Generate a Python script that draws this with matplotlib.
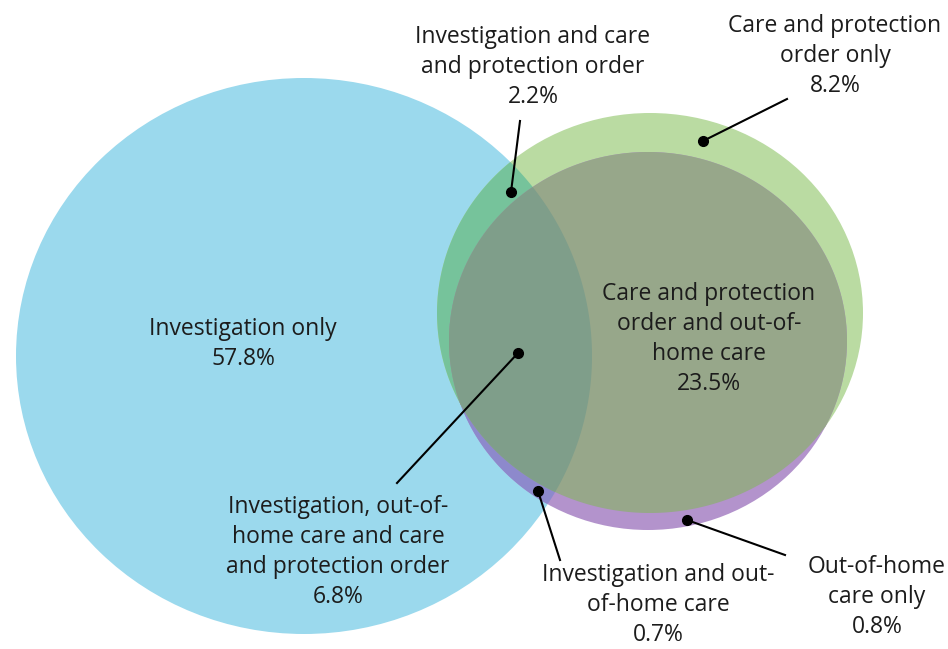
import numpy as np
import matplotlib.pyplot as plt
from matplotlib.patches import Ellipse, Polygon

plt.rcParams['font.family'] = ['Open Sans', 'DejaVu Sans']

# Region labels and shares (%)
labels = [
    "Investigation only",
    "Investigation and care\nand protection order",
    "Care and protection\norder only",
    "Care and protection\norder and out-of-\nhome care",
    "Investigation, out-of-\nhome care and care\nand protection order",
    "Investigation and out-\nof-home care",
    "Out-of-home\ncare only",
]
shares = [57.8, 2.2, 8.2, 23.5, 6.8, 0.7, 0.8]

# Label layout in pixel space (text centre, leader dot, leader end)
text_xy = [(243, 344), (533, 67), (835, 56), (709, 339), (338, 552), (658, 605), (877, 597)]
dot_xy = [None, (511, 192), (703, 141), None, (518, 353), (538, 491), (687, 520)]
end_xy = [None, (520, 121), (787, 99), None, (397, 483), (560, 560), (785, 555)]

# Sets drawn as slightly wide ellipses: centre x, centre y, half width, half height
sets = {
    "inv": (304, 356, 288, 278),
    "cpo": (650, 313, 213, 200),
    "ooh": (648, 341, 199, 189),
}
colors = {
    "inv": "#9bd9ed",
    "cpo": "#badba2",
    "ooh": "#b393cc",
    "inv_cpo": "#76c39b",
    "inv_ooh": "#8d89cc",
    "cpo_ooh": "#97a78a",
    "all": "#7f9e8a",
}


def boundary(e, n=1440):
    cx, cy, rx, ry = e
    t = np.linspace(0, 2 * np.pi, n, endpoint=False)
    return np.column_stack([cx + rx * np.cos(t), cy + ry * np.sin(t)])


def inside(pts, e):
    cx, cy, rx, ry = e
    return ((pts[:, 0] - cx) / rx) ** 2 + ((pts[:, 1] - cy) / ry) ** 2 <= 1.0


def overlap(*es):
    # intersection of convex shapes: boundary points inside all others, sorted by angle
    parts = []
    for i, e in enumerate(es):
        pts = boundary(e)
        mask = np.ones(len(pts), bool)
        for j, o in enumerate(es):
            if j != i:
                mask &= inside(pts, o)
        parts.append(pts[mask])
    pts = np.vstack(parts)
    c = pts.mean(axis=0)
    ang = np.arctan2(pts[:, 1] - c[1], pts[:, 0] - c[0])
    return pts[np.argsort(ang)]


fig = plt.figure(figsize=(9.48, 6.49), dpi=100)
ax = fig.add_axes([0, 0, 1, 1])
ax.set_xlim(0, 948)
ax.set_ylim(649, 0)
ax.axis("off")

for k in ["inv", "cpo", "ooh"]:
    cx, cy, rx, ry = sets[k]
    ax.add_patch(Ellipse((cx, cy), 2 * rx, 2 * ry, facecolor=colors[k], edgecolor="none", zorder=1))

for key, names in [("inv_cpo", ["inv", "cpo"]), ("inv_ooh", ["inv", "ooh"]),
                   ("cpo_ooh", ["cpo", "ooh"]), ("all", ["inv", "cpo", "ooh"])]:
    poly = overlap(*[sets[n] for n in names])
    ax.add_patch(Polygon(poly, closed=True, facecolor=colors[key], edgecolor="none", zorder=2))

for lab, val, (tx, ty), d, e in zip(labels, shares, text_xy, dot_xy, end_xy):
    ax.text(tx, ty, f"{lab}\n{val:.1f}%", ha="center", va="center", fontsize=16.5,
            color="#1c1c1c", linespacing=1.33, zorder=5)
    if d is not None:
        ax.plot([d[0], e[0]], [d[1], e[1]], color="black", lw=1.5, zorder=4)
        ax.plot(d[0], d[1], "o", color="black", ms=7, zorder=4)

fig.savefig("out.png", dpi=100, facecolor="white")
